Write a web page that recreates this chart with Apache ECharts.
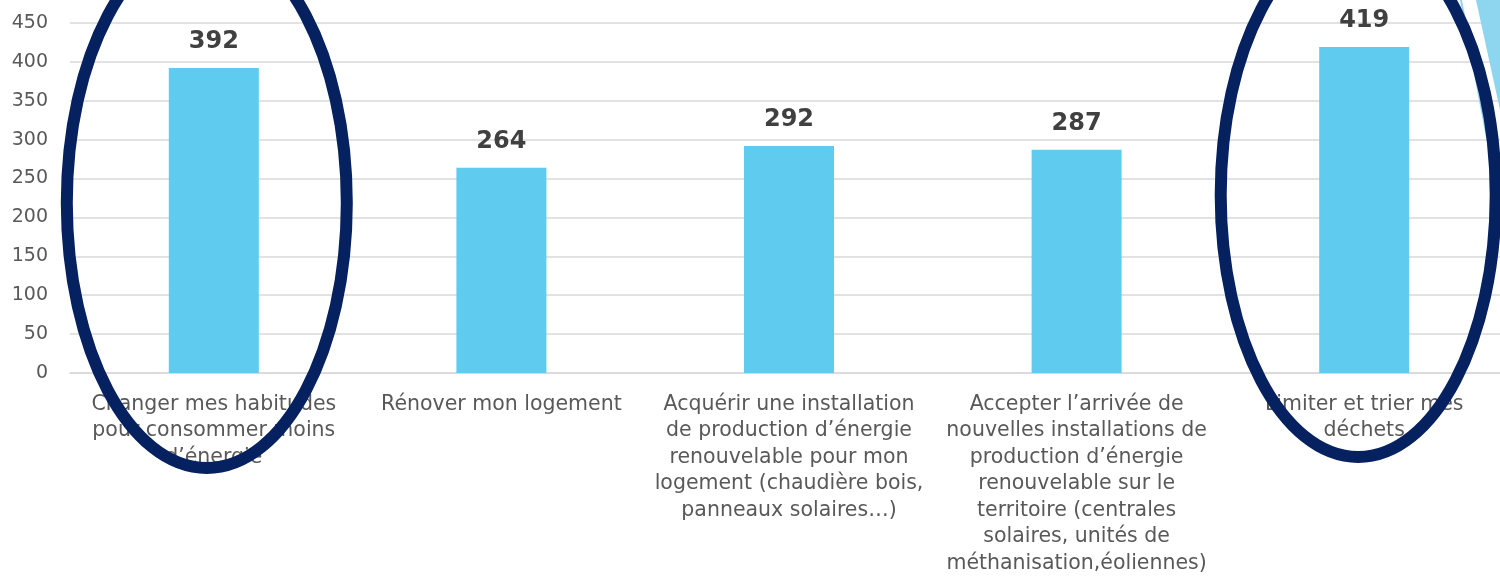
<!DOCTYPE html>
<html>
<head>
<meta charset="utf-8">
<script src="https://cdn.jsdelivr.net/npm/echarts@6/dist/echarts.min.js"></script>
<style>
html,body{margin:0;padding:0;background:#fff;}
#c{width:1500px;height:582px;}
</style>
</head>
<body>
<div id="c"></div>
<script>
const categories = [
  "Changer mes habitudes\npour consommer moins\nd’énergie",
  "Rénover mon logement",
  "Acquérir une installation\nde production d’énergie\nrenouvelable pour mon\nlogement (chaudière bois,\npanneaux solaires…)",
  "Accepter l’arrivée de\nnouvelles installations de\nproduction d’énergie\nrenouvelable sur le\nterritoire (centrales\nsolaires, unités de\nméthanisation,éoliennes)",
  "Limiter et trier mes\ndéchets"
];
const values = [392, 264, 292, 287, 419];
const yTicks = { min: 0, max: 450, interval: 50 };
const highlighted = [0, 4];

const FONT = "'DejaVu Sans', sans-serif";
const chart = echarts.init(document.getElementById('c'), null, { renderer: 'canvas' });

chart.setOption({
  animation: false,
  backgroundColor: '#ffffff',
  grid: { left: 70, right: -8, top: 23, bottom: 209, containLabel: false, outerBoundsMode: 'none' },
  xAxis: {
    type: 'category',
    data: categories,
    axisLine: { show: true, lineStyle: { color: '#D9D9D9', width: 1.5 } },
    axisTick: { show: false },
    axisLabel: {
      interval: 0,
      margin: 18,
      color: '#595959',
      fontFamily: FONT,
      fontSize: 20.5,
      lineHeight: 26.5,
      align: 'center',
      hideOverlap: false
    }
  },
  yAxis: {
    type: 'value',
    min: yTicks.min,
    max: yTicks.max,
    interval: yTicks.interval,
    axisLine: { show: false },
    axisTick: { show: false },
    splitLine: { lineStyle: { color: '#D9D9D9', width: 1.5 } },
    axisLabel: {
      margin: 22,
      color: '#595959',
      fontFamily: FONT,
      fontSize: 19
    }
  },
  series: [{
    type: 'bar',
    data: values,
    barWidth: 90,
    itemStyle: { color: '#5ECBEF' },
    label: {
      show: true,
      position: 'top',
      distance: 14,
      color: '#404040',
      fontFamily: FONT,
      fontWeight: 'bold',
      fontSize: 24
    }
  }]
});

function drawDecorations() {
  const zeroY = chart.convertToPixel({ yAxisIndex: 0 }, 0);
  const els = [];
  const ell = [
    { idx: highlighted[0], dx: -7, dy: -170, rx: 140, ry: 265 },
    { idx: highlighted[1], dx: -6, dy: -178, rx: 137.5, ry: 262 }
  ];
  els.push({
    type: 'polygon', z: 99, silent: true,
    shape: { points: [[1476, 0], [1500, 0], [1500, 110]] },
    style: { fill: '#8ED6F0' }
  });
  els.push({
    type: 'line', z: 99, silent: true,
    shape: { x1: 1461, y1: 0, x2: 1496, y2: 185 },
    style: { stroke: '#8ED6F0', lineWidth: 2 }
  });
  ell.forEach(e => {
    const cx = chart.convertToPixel({ xAxisIndex: 0 }, categories[e.idx]);
    els.push({
      type: 'ellipse', z: 100, silent: true,
      shape: { cx: cx + e.dx, cy: zeroY + e.dy, rx: e.rx, ry: e.ry },
      style: { fill: null, stroke: '#06215F', lineWidth: 12 }
    });
  });
  chart.setOption({ graphic: { elements: els } });
}
drawDecorations();
</script>
</body>
</html>
